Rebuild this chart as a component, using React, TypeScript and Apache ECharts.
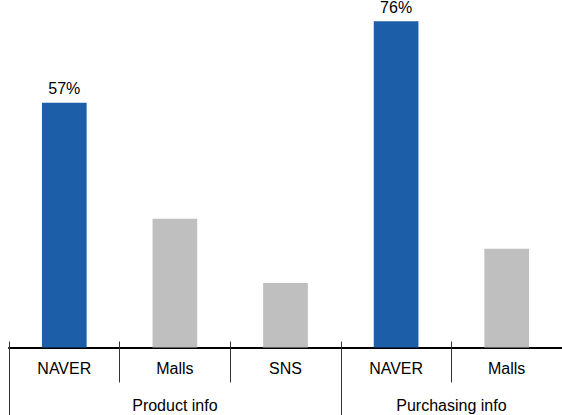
import React, { useEffect, useRef } from "react";
import * as echarts from "echarts";

const categories = ["NAVER", "Malls", "SNS", "NAVER", "Malls"];
const values = [57, 30, 15, 76, 23];
const highlighted = [true, false, false, true, false];
const groups = ["Product info", "Purchasing info"];
const groupCenters = [1.5, 4];
const groupBounds = [0, 3, 5];
const labelled = [true, false, false, true, false];

const BLUE = "#1C5EA8";
const GRAY = "#BFBFBF";
const FONT = "'Liberation Sans', Arial, sans-serif";

export default function App() {
  const ref = useRef<HTMLDivElement>(null);
  useEffect(() => {
    if (!ref.current) return;
    const chart = echarts.init(ref.current, undefined, { renderer: "svg" });
    chart.setOption({
      animation: false,
      grid: { left: 9, top: 4, bottom: 67.5, width: 556.5, containLabel: false },
      yAxis: { type: "value", min: 0, max: 80, show: false },
      xAxis: [
        {
          type: "category",
          data: categories,
          position: "bottom",
          axisLine: { show: true, lineStyle: { color: "#000", width: 2 } },
          axisTick: { show: true, length: 35, lineStyle: { color: "#333", width: 1 } },
          axisLabel: { color: "#000", fontSize: 16, fontFamily: FONT, margin: 13, interval: 0 },
          splitLine: { show: false },
        },
        {
          type: "value",
          min: 0,
          max: 5,
          position: "bottom",
          axisLine: { show: false },
          axisTick: {
            show: true,
            customValues: groupBounds,
            length: 68,
            lineStyle: { color: "#333", width: 1 },
          },
          axisLabel: {
            show: true,
            customValues: groupCenters,
            color: "#000",
            fontSize: 16,
            fontFamily: FONT,
            margin: 50,
            formatter: (v: number) => {
              const i = groupCenters.indexOf(v);
              return i >= 0 ? groups[i] : "";
            },
          },
          splitLine: { show: false },
        },
        {
          type: "value",
          min: 0,
          max: 5,
          position: "bottom",
          axisLine: { show: false },
          axisTick: {
            show: true,
            inside: true,
            customValues: [0, 1, 2, 3, 4, 5],
            length: 6,
            lineStyle: { color: "#333", width: 1 },
          },
          axisLabel: { show: false },
          splitLine: { show: false },
        },
      ],
      series: [
        {
          type: "bar",
          xAxisIndex: 0,
          barWidth: "40.4%",
          data: values.map((v, i) => ({
            value: v,
            itemStyle: { color: highlighted[i] ? BLUE : GRAY },
            label: {
              show: labelled[i],
              position: "top",
              distance: 6,
              formatter: "{c}%",
              color: "#000",
              fontSize: 16,
              fontFamily: FONT,
            },
          })),
        },
      ],
    });
    return () => chart.dispose();
  }, []);
  return (
    <div
      ref={ref}
      style={{ position: "absolute", left: 0, top: 0, width: 562, height: 415 }}
    />
  );
}
